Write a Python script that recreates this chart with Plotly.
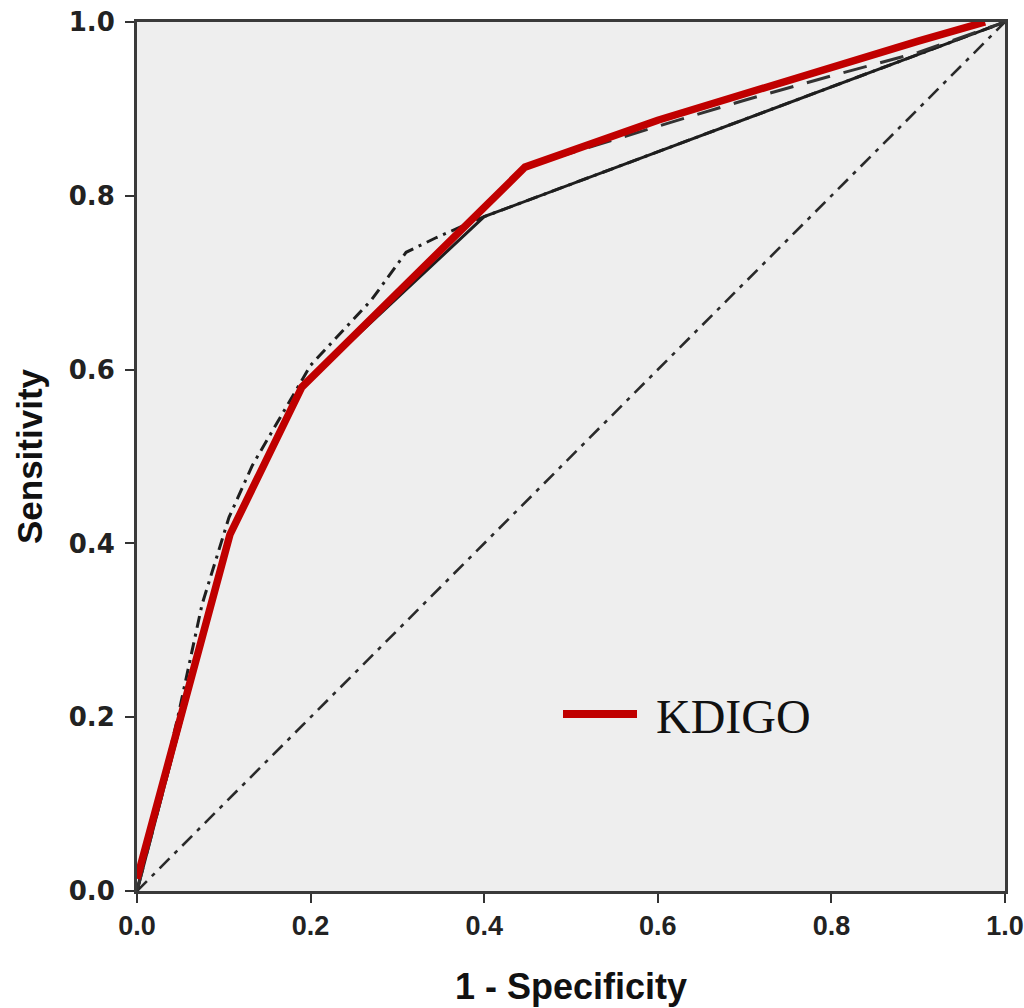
import plotly.graph_objects as go

# ROC curves: 1 - specificity (x) vs sensitivity (y)
kdigo_fpr = [0.0, 0.107, 0.19, 0.447, 0.6, 0.7, 0.8, 0.9, 0.977]
kdigo_tpr = [0.014, 0.41, 0.58, 0.833, 0.887, 0.918, 0.947, 0.978, 1.0]

solid_fpr = [0.0, 0.107, 0.19, 0.4, 1.0]
solid_tpr = [0.0, 0.41, 0.58, 0.776, 1.0]

dashdot_fpr = [0.0, 0.047, 0.075, 0.106, 0.133, 0.2, 0.27, 0.31, 0.345, 0.4, 1.0]
dashdot_tpr = [0.0, 0.2, 0.33, 0.43, 0.49, 0.605, 0.68, 0.735, 0.752, 0.776, 1.0]

dashed_fpr = [0.0, 0.107, 0.19, 0.447, 0.6, 0.7, 0.8, 0.9, 1.0]
dashed_tpr = [0.0, 0.41, 0.58, 0.833, 0.88, 0.91, 0.938, 0.965, 1.0]

ref_fpr = [0.0, 1.0]
ref_tpr = [0.0, 1.0]

tick_vals = [0.0, 0.2, 0.4, 0.6, 0.8, 1.0]
tick_text = ["0.0", "0.2", "0.4", "0.6", "0.8", "1.0"]

RED = "#C00000"
INK = "#1e1e1e"

fig = go.Figure()

# reference diagonal
fig.add_trace(go.Scatter(x=ref_fpr, y=ref_tpr, mode="lines",
                         line=dict(color="#2a2a2a", width=2.6, dash="14px,7px,4px,7px"),
                         showlegend=False, hoverinfo="skip"))
fig.add_trace(go.Scatter(x=solid_fpr, y=solid_tpr, mode="lines",
                         line=dict(color=INK, width=3),
                         showlegend=False))
fig.add_trace(go.Scatter(x=dashdot_fpr, y=dashdot_tpr, mode="lines",
                         line=dict(color=INK, width=3, dash="12px,6px,3px,6px"),
                         showlegend=False))
fig.add_trace(go.Scatter(x=dashed_fpr, y=dashed_tpr, mode="lines",
                         line=dict(color="#333333", width=3, dash="24px,14px"),
                         showlegend=False))
fig.add_trace(go.Scatter(x=kdigo_fpr, y=kdigo_tpr, mode="lines",
                         line=dict(color=RED, width=7.5),
                         name="KDIGO", showlegend=False))

# legend key for the KDIGO curve
fig.add_shape(type="line", xref="paper", yref="paper",
              x0=(563 - 137) / 868, x1=(637 - 137) / 868,
              y0=(891 - 714) / 869, y1=(891 - 714) / 869,
              line=dict(color=RED, width=8))
fig.add_annotation(xref="paper", yref="paper",
                   x=(654 - 137) / 868, y=(891 - 716) / 869,
                   xanchor="left", yanchor="middle", showarrow=False,
                   text="KDIGO",
                   font=dict(family="Liberation Serif, Times New Roman, serif",
                             size=48, color="#111111"))

axis_common = dict(
    range=[0, 1],
    tickvals=tick_vals,
    ticktext=tick_text,
    ticks="outside",
    ticklen=9,
    tickwidth=2,
    tickcolor="#333333",
    showline=True,
    linecolor="#3a3a3a",
    linewidth=3,
    mirror=True,
    showgrid=False,
    zeroline=False,
    fixedrange=True,
    automargin=False,
)

fig.update_xaxes(
    **axis_common,
    tickfont=dict(family="Liberation Sans, Arial, sans-serif", size=27, color="#222222",
                  weight="bold"),
    title=dict(text="<b>1 - Specificity</b>", standoff=34,
               font=dict(family="Liberation Sans, Arial, sans-serif", size=36, color="#111111")),
)
fig.update_yaxes(
    **axis_common,
    tickfont=dict(family="DejaVu Sans, Verdana, sans-serif", size=26, color="#222222",
                  weight="bold"),
    ticklabelstandoff=5,
    title=dict(text="<b>Sensitivity</b>", standoff=16,
               font=dict(family="Liberation Sans, Arial, sans-serif", size=35, color="#111111")),
)

fig.update_layout(
    width=1024,
    height=1008,
    margin=dict(l=137, r=19, t=22, b=117),
    paper_bgcolor="white",
    plot_bgcolor="#EEEEEE",
    showlegend=False,
)

fig.write_html("out.html")
